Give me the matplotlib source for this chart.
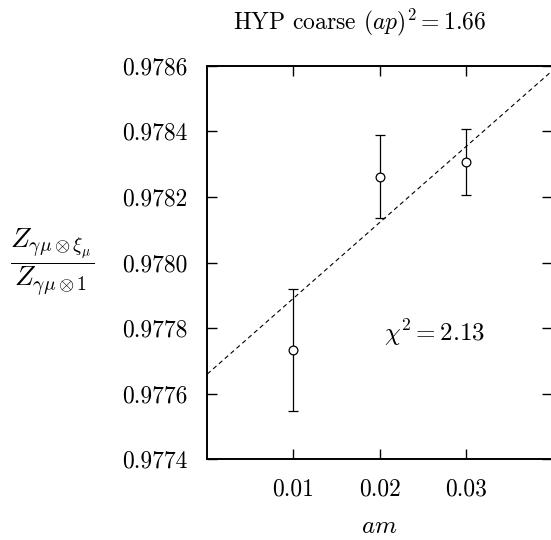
import numpy as np
import matplotlib
matplotlib.use("Agg")
import matplotlib.pyplot as plt

plt.rcParams["mathtext.fontset"] = "cm"
plt.rcParams["font.family"] = "serif"
plt.rcParams["font.serif"] = ["cmr10", "DejaVu Serif"]
plt.rcParams["axes.formatter.use_mathtext"] = True
plt.rcParams["axes.unicode_minus"] = False

# data
am = [0.01, 0.02, 0.03]
ratio = [0.977733, 0.978262, 0.978306]
ratio_err = [0.000187, 0.000126, 0.000101]

# linear fit shown as dashed line
fit_intercept = 0.97766
fit_slope = 0.0231
fit_x = [0.0, 0.04]

x_ticks = [0.01, 0.02, 0.03]
x_ticklabels = ["0.01", "0.02", "0.03"]
y_ticks = [0.9774, 0.9776, 0.9778, 0.9780, 0.9782, 0.9784, 0.9786]
y_ticklabels = ["0.9774", "0.9776", "0.9778", "0.9780", "0.9782", "0.9784", "0.9786"]

fig = plt.figure(figsize=(5.51, 5.40), dpi=100)
ax = fig.add_axes([0.3762, 0.1494, 0.6256, 0.7289])

fit_y = [fit_intercept + fit_slope * x for x in fit_x]
ax.plot(fit_x, fit_y, ls=(0, (4, 3)), color="black", lw=0.8)

ax.errorbar(am, ratio, yerr=ratio_err, fmt="o", mfc="white", mec="black",
            ms=6.3, mew=0.9, color="black", ecolor="black", elinewidth=0.9,
            capsize=3.6, capthick=0.9)

ax.set_xlim(0.0, 0.04)
ax.set_ylim(0.9774, 0.9786)
ax.set_xticks(x_ticks)
ax.set_xticklabels(x_ticklabels)
ax.set_yticks(y_ticks)
ax.set_yticklabels(y_ticklabels)
ax.tick_params(direction="in", length=7, width=1.0, top=True, right=True,
               labelsize=17, pad=14)
ax.tick_params(axis="x", pad=14)
for s in ax.spines.values():
    s.set_linewidth(1.4)

ax.text(0.0205, 0.977785, r"$\chi^2 = 2.13$", fontsize=18, va="center", ha="left")

fig.text(0.652, 0.958, r"HYP coarse $(ap)^2 = 1.66$", fontsize=17, ha="center", va="center")
fig.text(0.688, 0.024, r"$am$", fontsize=18, ha="center", va="center")
fig.text(0.094, 0.513, r"$\dfrac{Z_{\gamma\mu\otimes\xi_\mu}}{Z_{\gamma\mu\otimes\mathbf{1}}}$",
         fontsize=20, ha="center", va="center")

fig.savefig("out.png", dpi=100)
